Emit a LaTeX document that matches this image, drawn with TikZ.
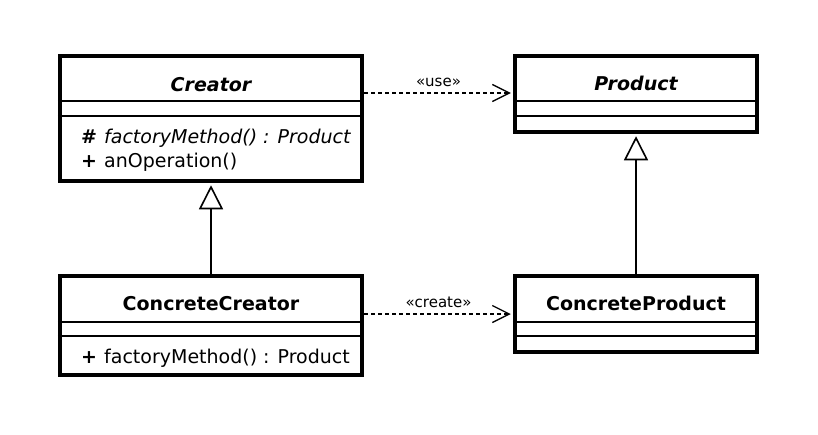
\documentclass[tikz,border=0pt]{standalone}
\usepackage{fontspec}
\setmainfont{DejaVu Sans}
\usetikzlibrary{arrows.meta}

\begin{document}
\begin{tikzpicture}[x=1pt, y=-1pt,
  classbox/.style={draw, line width=4.5pt, inner sep=0pt},
  divider/.style={line width=1.6pt},
  classname/.style={anchor=base, inner sep=0pt, font=\fontsize{19}{22}\selectfont\bfseries},
  member/.style={anchor=base west, inner sep=0pt, font=\fontsize{19}{22}\selectfont},
  stereo/.style={inner sep=0pt, font=\fontsize{15}{18}\selectfont},
  inherit/.style={line width=1.6pt, shorten >=2pt,
    -{Triangle[open, length=24pt, width=24pt, line width=1.6pt]}},
  depend/.style={line width=1.3pt, dash pattern=on 4pt off 3pt, shorten >=2pt,
    -{Straight Barb[length=17pt, width=17pt, line width=1.3pt]}}]
  \useasboundingbox (0,0) rectangle (818,434);

  % classes
  \node[classbox, minimum width=302pt, minimum height=125pt] (creator) at (211,118.5) {};
  \node[classbox, minimum width=242pt, minimum height=76pt] (product) at (636,94) {};
  \node[classbox, minimum width=302pt, minimum height=99pt] (ccreator) at (211,325.5) {};
  \node[classbox, minimum width=242pt, minimum height=76pt] (cproduct) at (636,314) {};

  % compartments
  \draw[divider] (creator.west |- 0,101) -- (creator.east |- 0,101);
  \draw[divider] (creator.west |- 0,116) -- (creator.east |- 0,116);
  \draw[divider] (product.west |- 0,101) -- (product.east |- 0,101);
  \draw[divider] (product.west |- 0,116) -- (product.east |- 0,116);
  \draw[divider] (ccreator.west |- 0,322) -- (ccreator.east |- 0,322);
  \draw[divider] (ccreator.west |- 0,336) -- (ccreator.east |- 0,336);
  \draw[divider] (cproduct.west |- 0,322) -- (cproduct.east |- 0,322);
  \draw[divider] (cproduct.west |- 0,336) -- (cproduct.east |- 0,336);

  % names
  \node[classname, font=\fontsize{19}{22}\selectfont\bfseries\itshape] (creatorname) at (211,91.5) {Creator};
  \node[classname, font=\fontsize{19}{22}\selectfont\bfseries\itshape] (productname) at (636,90.5) {Product};
  \node[classname] (ccreatorname) at (211,310) {ConcreteCreator};
  \node[classname] (cproductname) at (636,310) {ConcreteProduct};

  % operations
  \node[member, font=\fontsize{19}{22}\selectfont\bfseries] (vis1) at (81,143) {\#};
  \node[member, font=\fontsize{19}{22}\selectfont\itshape] (op1) at (104,143) {factoryMethod() : Product};
  \node[member, font=\fontsize{19}{22}\selectfont\bfseries] (vis2) at (81,167) {+};
  \node[member] (op2) at (104,167) {anOperation()};
  \node[member, font=\fontsize{19}{22}\selectfont\bfseries] (vis3) at (81,363) {+};
  \node[member] (op3) at (104,363) {factoryMethod() : Product};

  % relations
  \draw[inherit] (ccreator) -- (creator);
  \draw[inherit] (cproduct) -- (product);
  \draw[depend] (creator.east |- 0,93) -- node[stereo, above=6pt] (uselabel) {«use»} (product.west |- 0,93);
  \draw[depend] (ccreator.east |- 0,314) -- node[stereo, above=6pt] (createlabel) {«create»} (cproduct.west);
\end{tikzpicture}
\end{document}
